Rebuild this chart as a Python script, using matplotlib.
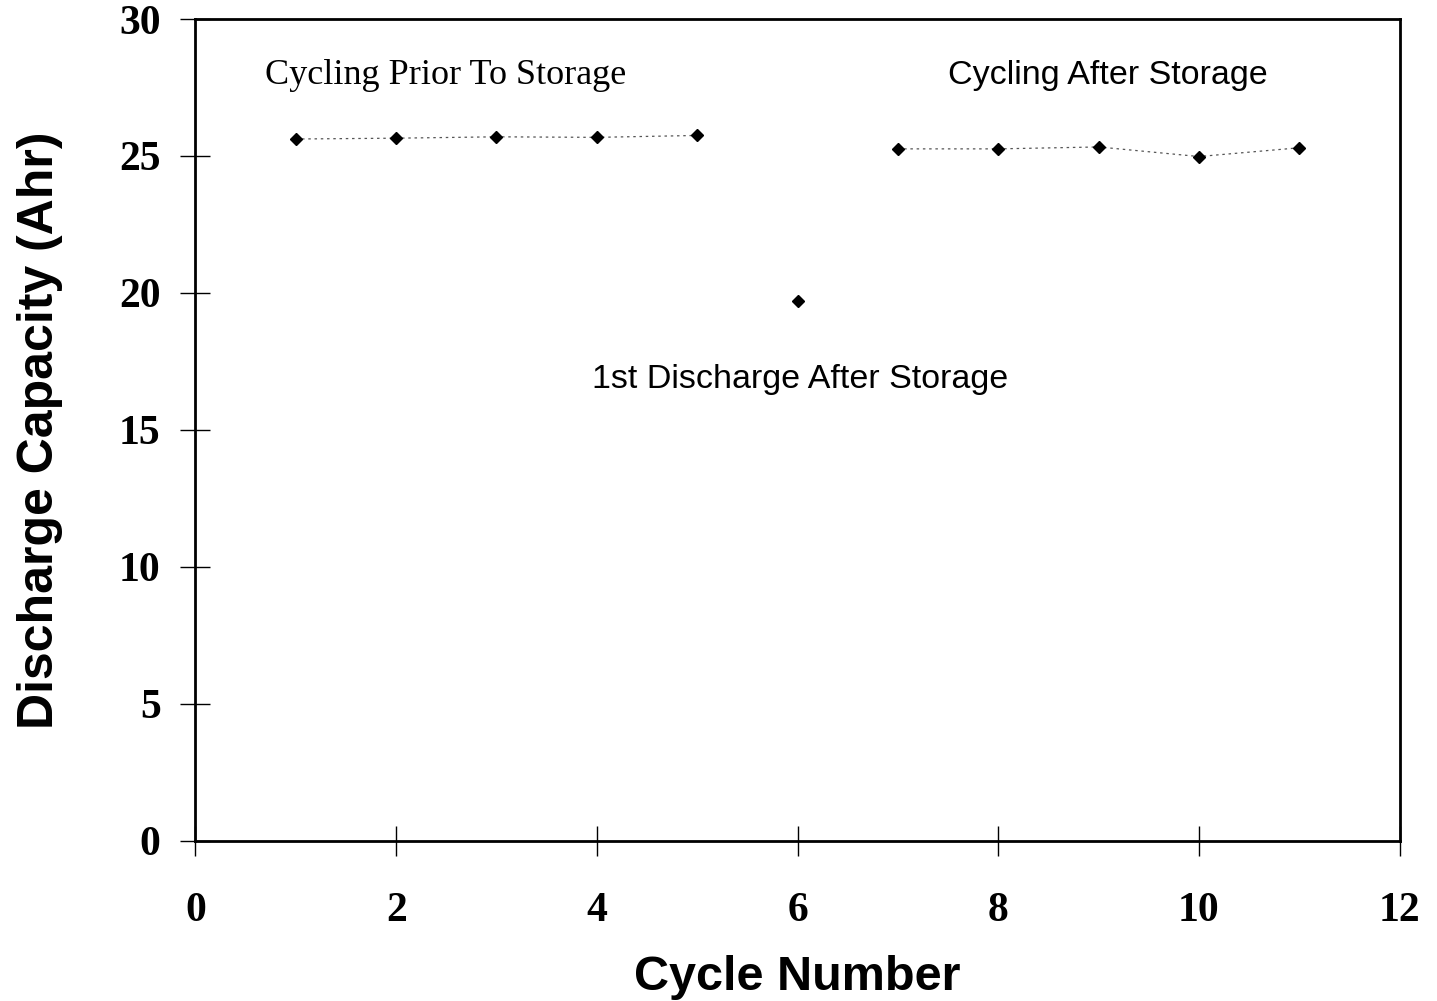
import numpy as np
import matplotlib
matplotlib.use("Agg")
from matplotlib import pyplot as plt

# cycling before storage
cycles_before = [1, 2, 3, 4, 5]
capacity_before = [25.62, 25.65, 25.70, 25.68, 25.75]

# first discharge after storage
cycles_first = [6]
capacity_first = [19.7]

# cycling after storage
cycles_after = [7, 8, 9, 10, 11]
capacity_after = [25.26, 25.26, 25.33, 24.98, 25.30]

x_ticks = [0, 2, 4, 6, 8, 10, 12]
y_ticks = [0, 5, 10, 15, 20, 25, 30]

fig = plt.figure(figsize=(14.37, 10.01), dpi=100)
ax = fig.add_axes([0.136, 0.160, 0.838, 0.821])

line_style = dict(color="#555555", linestyle=(0, (2, 3)), linewidth=0.9,
                  marker="D", markersize=6.5, markerfacecolor="black",
                  markeredgecolor="black")
ax.plot(cycles_before, capacity_before, **line_style)
ax.plot(cycles_after, capacity_after, **line_style)
ax.plot(cycles_first, capacity_first, linestyle="none", marker="D", markersize=6.5,
        color="black")

ax.set_xlim(0, 12)
ax.set_ylim(0, 30)
ax.set_xticks(x_ticks)
ax.set_yticks(y_ticks)
ax.set_xticklabels([str(t) for t in x_ticks], fontfamily="Liberation Serif",
                   fontweight="bold", fontsize=30)
ax.set_yticklabels([str(t) for t in y_ticks], fontfamily="Liberation Serif",
                   fontweight="bold", fontsize=30)
ax.tick_params(axis="x", direction="inout", length=22, width=1, pad=26)
ax.tick_params(axis="y", direction="inout", length=22, width=1, pad=14)

for s in ax.spines.values():
    s.set_linewidth(2)

ax.set_xlabel("Cycle Number", fontfamily="Liberation Sans", fontweight="bold",
              fontsize=35, labelpad=18)
ax.set_ylabel("Discharge Capacity (Ahr)", fontfamily="Liberation Sans",
              fontweight="bold", fontsize=36, labelpad=40)

ax.text(0.69, 27.95, "Cycling Prior To Storage", fontfamily="Liberation Serif",
        fontsize=26, va="center", ha="left")
ax.text(7.5, 27.95, "Cycling After Storage", fontfamily="Liberation Sans",
        fontsize=24.5, va="center", ha="left")
ax.text(3.95, 16.85, "1st Discharge After Storage", fontfamily="Liberation Sans",
        fontsize=24.5, va="center", ha="left")

plt.savefig("out.png", dpi=100)
